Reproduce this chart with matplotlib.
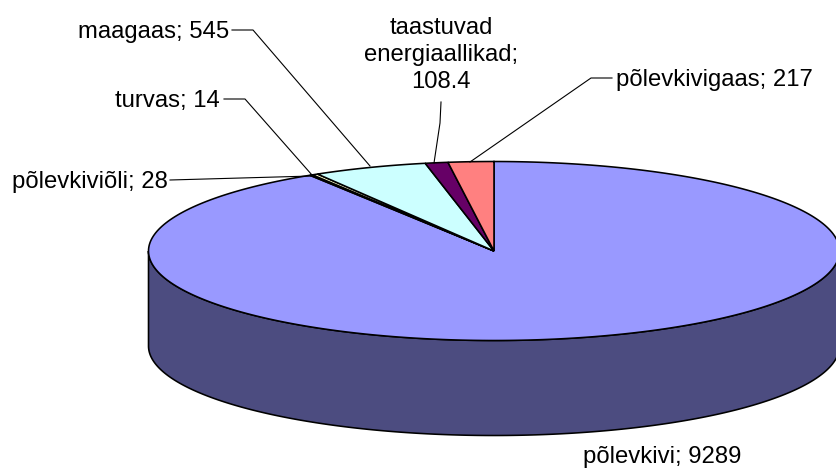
import numpy as np
import matplotlib
matplotlib.use("Agg")
import matplotlib.pyplot as plt

categories = ["põlevkivi", "turvas", "põlevkiviõli", "maagaas", "taastuvad\nenergiaallikad", "põlevkivigaas"]
values = [9289, 14, 28, 545, 108.4, 217]
value_labels = ["9289", "14", "28", "545", "108.4", "217"]
colors = ["#9999FF", "#993366", "#FFFFCC", "#CCFFFF", "#660066", "#FF8080"]

W, H = 837, 468
CX, CY, RX, RY, DEPTH = 494, 251, 345.5, 89.5, 95

plt.rcParams["font.family"] = ["Liberation Sans", "DejaVu Sans"]
fig = plt.figure(figsize=(W / 100, H / 100), dpi=100)
ax = fig.add_axes([0, 0, 1, 1])
ax.set_xlim(0, W)
ax.set_ylim(H, 0)
ax.axis("off")


def rim(t0, t1, n=300):
    t = np.linspace(t0, t1, n)
    return CX + RX * np.sin(t), CY - RY * np.cos(t)


fracs = np.cumsum([0] + values) / sum(values) * 2 * np.pi

# side wall of the visible front half
xs, ys = rim(np.pi / 2, 3 * np.pi / 2)
ax.fill(np.r_[xs, xs[::-1]], np.r_[ys, ys[::-1] + DEPTH], fc="#4C4C80", ec="black", lw=1.15, zorder=1)

# top slices
for i, c in enumerate(colors):
    xs, ys = rim(fracs[i], fracs[i + 1])
    ax.fill(np.r_[CX, xs], np.r_[CY, ys], fc=c, ec="black", lw=1.15, zorder=2, joinstyle="miter")

# leader lines
leaders = [
    ([170, 312], [180, 176]),
    ([224, 245, 312], [99, 99, 175]),
    ([232, 253, 370], [30, 30, 166]),
    ([441, 440, 434], [102, 123, 163]),
    ([612, 591, 470], [78, 78, 162]),
]
for lx, ly in leaders:
    ax.plot(lx, ly, color="black", lw=0.8, zorder=3)

fs = 17.2
ax.text(583, 457, f"{categories[0]}; {value_labels[0]}", fontsize=fs, ha="left", va="center")
ax.text(220, 101, f"{categories[1]}; {value_labels[1]}", fontsize=fs, ha="right", va="center")
ax.text(168, 182, f"{categories[2]}; {value_labels[2]}", fontsize=fs, ha="right", va="center")
ax.text(229, 32, f"{categories[3]}; {value_labels[3]}", fontsize=fs, ha="right", va="center")
ax.text(441, 55, f"{categories[4]};\n{value_labels[4]}", fontsize=fs, ha="center", va="center", linespacing=1.32)
ax.text(616, 80, f"{categories[5]}; {value_labels[5]}", fontsize=fs, ha="left", va="center")

fig.savefig("out.png", dpi=100)
